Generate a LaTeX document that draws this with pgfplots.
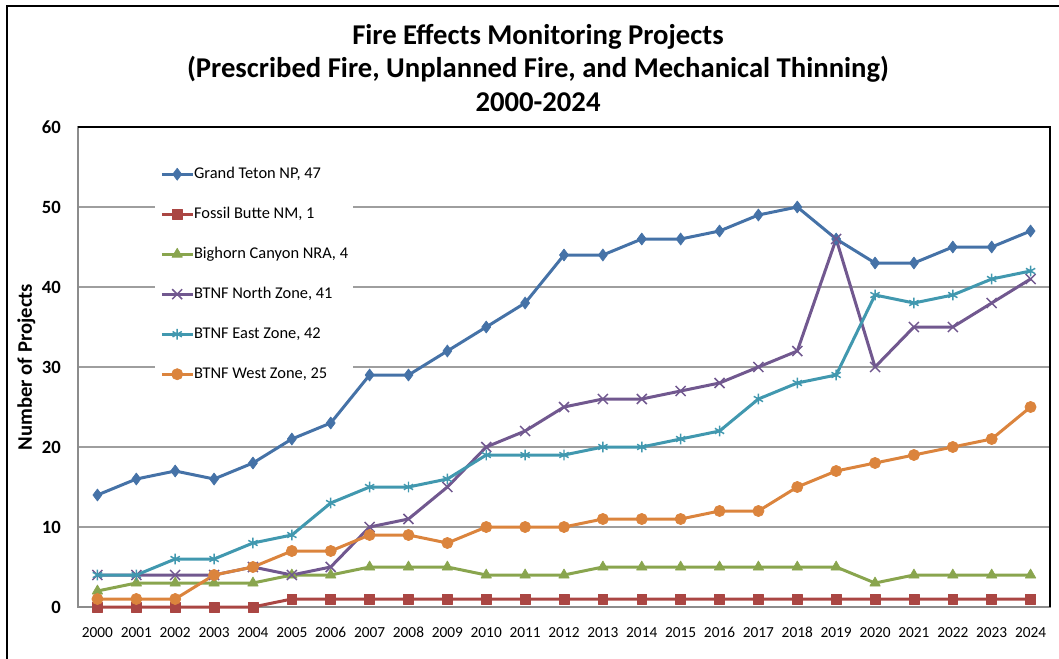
\documentclass[border=0pt]{standalone}
\usepackage{pgfplots}
\pgfplotsset{compat=1.18}
\usepackage{fontspec}
\setmainfont{Carlito}
\definecolor{cGT}{HTML}{4572A7}
\definecolor{cFB}{HTML}{AA4643}
\definecolor{cBC}{HTML}{89A54E}
\definecolor{cNZ}{HTML}{71588F}
\definecolor{cEZ}{HTML}{4198AF}
\definecolor{cWZ}{HTML}{DB843D}
\begin{document}
\begin{tikzpicture}[x=1pt,y=1pt]
\useasboundingbox (0,0) rectangle (794.25,493.5);
\draw[black,line width=1.3pt] (5.25,-2) -- (5.25,489) -- (800,489);
\node[anchor=base,font=\fontsize{21.5}{24}\selectfont\bfseries] at (403.5,460.3) {Fire Effects Monitoring Projects};
\node[anchor=base,font=\fontsize{21.5}{24}\selectfont\bfseries] at (403.5,435) {(Prescribed Fire, Unplanned Fire, and Mechanical Thinning)};
\node[anchor=base,font=\fontsize{21.5}{24}\selectfont\bfseries] at (403.5,409.7) {2000-2024};
\begin{axis}[
  at={(58.5pt,38.25pt)}, anchor=south west,
  width=729pt, height=360pt, scale only axis,
  xmin=1999.5, xmax=2024.5, ymin=0, ymax=60,
  xtick={2000,2001,...,2024}, ytick={0,10,...,60},
  major tick length=0pt,
  /pgf/number format/assume math mode=true,
  xticklabel style={/pgf/number format/1000 sep={}, yshift=-11.5pt, font=\fontsize{11.5}{13}\selectfont},
  yticklabel style={xshift=-9.3pt, font=\fontsize{14}{16}\selectfont\bfseries},
  ymajorgrids, grid style={color=black!38, line width=0.9pt},
  axis line style={color=black!45, line width=0.9pt},
  ylabel={Number of Projects},
  ylabel style={at={(axis description cs:-0.053,0.5)}, anchor=center, font=\fontsize{15.5}{18}\selectfont\bfseries},
  legend style={at={(axis description cs:0.079,0.93)}, anchor=north west, draw=none, fill=white,
    font=\fontsize{12.3}{14}\selectfont, row sep=18pt, inner sep=4pt,
    nodes={inner sep=0pt, text height=9pt, text depth=3pt}},
  legend cell align=left,
  legend image code/.code={\draw[mark repeat=2,mark phase=2,#1] plot coordinates {(0pt,0pt)(11.5pt,0pt)(23pt,0pt)};},
  every axis plot/.append style={line width=2.25pt, line join=round},
  after end axis/.code={\draw[black,line width=1.2pt] (rel axis cs:0,1) -- (rel axis cs:1,1) -- (rel axis cs:1,0);},
  clip=false,
]
\addplot[color=cGT, mark=diamond*, mark size=4.5pt, mark options={line width=0.5pt}] coordinates {
(2000,14)(2001,16)(2002,17)(2003,16)(2004,18)(2005,21)(2006,23)(2007,29)(2008,29)(2009,32)(2010,35)(2011,38)(2012,44)(2013,44)(2014,46)(2015,46)(2016,47)(2017,49)(2018,50)(2019,46)(2020,43)(2021,43)(2022,45)(2023,45)(2024,47)};
\addlegendentry{Grand Teton NP, 47}
\addplot[color=cFB, mark=square*, mark size=3.7pt, mark options={line width=0.5pt}] coordinates {
(2000,0)(2001,0)(2002,0)(2003,0)(2004,0)(2005,1)(2006,1)(2007,1)(2008,1)(2009,1)(2010,1)(2011,1)(2012,1)(2013,1)(2014,1)(2015,1)(2016,1)(2017,1)(2018,1)(2019,1)(2020,1)(2021,1)(2022,1)(2023,1)(2024,1)};
\addlegendentry{Fossil Butte NM, 1}
\addplot[color=cBC, mark=triangle*, mark size=4.5pt, mark options={line width=0.5pt}] coordinates {
(2000,2)(2001,3)(2002,3)(2003,3)(2004,3)(2005,4)(2006,4)(2007,5)(2008,5)(2009,5)(2010,4)(2011,4)(2012,4)(2013,5)(2014,5)(2015,5)(2016,5)(2017,5)(2018,5)(2019,5)(2020,3)(2021,4)(2022,4)(2023,4)(2024,4)};
\addlegendentry{Bighorn Canyon NRA, 4}
\addplot[color=cNZ, mark=x, mark size=5.3pt, mark options={line width=1.1pt}] coordinates {
(2000,4)(2001,4)(2002,4)(2003,4)(2004,5)(2005,4)(2006,5)(2007,10)(2008,11)(2009,15)(2010,20)(2011,22)(2012,25)(2013,26)(2014,26)(2015,27)(2016,28)(2017,30)(2018,32)(2019,46)(2020,30)(2021,35)(2022,35)(2023,38)(2024,41)};
\addlegendentry{BTNF North Zone, 41}
\addplot[color=cEZ, mark=asterisk, mark size=4pt, mark options={line width=1.1pt}] coordinates {
(2000,4)(2001,4)(2002,6)(2003,6)(2004,8)(2005,9)(2006,13)(2007,15)(2008,15)(2009,16)(2010,19)(2011,19)(2012,19)(2013,20)(2014,20)(2015,21)(2016,22)(2017,26)(2018,28)(2019,29)(2020,39)(2021,38)(2022,39)(2023,41)(2024,42)};
\addlegendentry{BTNF East Zone, 42}
\addplot[color=cWZ, mark=*, mark size=4.2pt, mark options={line width=0.5pt}] coordinates {
(2000,1)(2001,1)(2002,1)(2003,4)(2004,5)(2005,7)(2006,7)(2007,9)(2008,9)(2009,8)(2010,10)(2011,10)(2012,10)(2013,11)(2014,11)(2015,11)(2016,12)(2017,12)(2018,15)(2019,17)(2020,18)(2021,19)(2022,20)(2023,21)(2024,25)};
\addlegendentry{BTNF West Zone, 25}
\end{axis}
\end{tikzpicture}
\end{document}
